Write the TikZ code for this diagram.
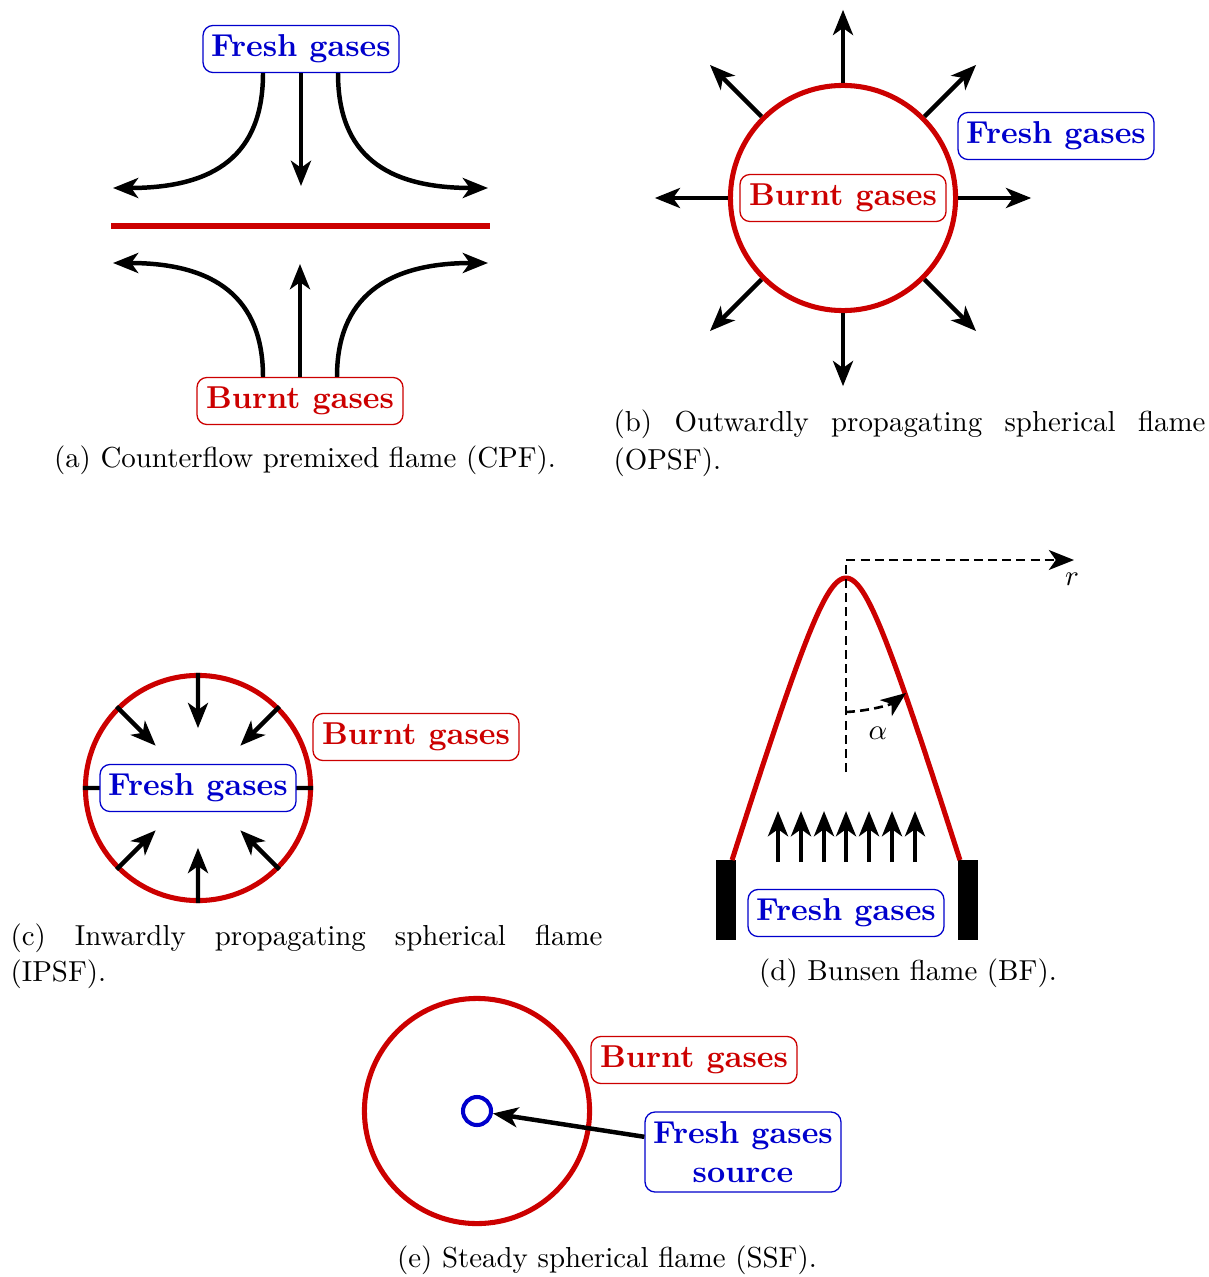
\documentclass[tikz,border=0pt]{standalone}
\usetikzlibrary{arrows.meta,calc}
\definecolor{fred}{RGB}{204,0,0}
\definecolor{fblue}{RGB}{0,0,204}
\begin{document}
\begin{tikzpicture}[x=0.346pt,y=-0.346pt,
  lbl/.style={draw, rounded corners=3.5pt, fill=white, line width=0.45pt,
    font=\fontsize{10.95}{13.6}\selectfont\bfseries, inner sep=0pt, minimum height=16.3pt},
  fresh/.style={lbl, draw=fblue, text=fblue, minimum width=67.8pt},
  burnt/.style={lbl, draw=fred, text=fred, minimum width=71.3pt},
  stealthtip/.style={-{Stealth[length=8.7pt,width=6.9pt,inset=2.4pt]}},
  flow/.style={stealthtip, line width=1.55pt},
  flameline/.style={draw=fred, line width=1.75pt},
  flamering/.style={circle, draw=fred, line width=1.75pt, minimum size=77.9pt, inner sep=0pt},
  dashln/.style={line width=0.9pt, dash pattern=on 3.1pt off 1.8pt},
  captxt/.style={font=\fontsize{10}{12}\selectfont, inner sep=0pt},
]
\useasboundingbox (0,0) rectangle (1208,1277);

% ---------- (a) Counterflow premixed flame ----------
\node[fresh] (fa) at (301,49) {Fresh gases};
\node[burnt] (ba) at (300,401) {Burnt gases};
\coordinate (aTL) at (113,188);
\coordinate (aTR) at (488,188);
\coordinate (aTM) at (301,186);
\coordinate (aBL) at (113,263);
\coordinate (aBR) at (488,263);
\coordinate (aBM) at (300,264);
\coordinate (fl1) at (111,226);
\coordinate (fl2) at (490,226);
\draw[flameline] (fl1) -- (fl2);
\draw[flow] ($(fa.south)+(-38,0)$) .. controls (263,155) and (215,188) .. (aTL);
\draw[flow] ($(fa.south)+(37,0)$) .. controls (338,155) and (386,188) .. (aTR);
\draw[flow] (fa.south) -- (aTM);
\draw[flow] ($(ba.north)+(-37,0)$) .. controls (263,298) and (215,263) .. (aBL);
\draw[flow] ($(ba.north)+(37,0)$) .. controls (337,298) and (386,263) .. (aBR);
\draw[flow] (ba.north) -- (aBM);
\node[captxt] (capa) at (305,460) {(a) Counterflow premixed flame (CPF).};

% ---------- (b) Outwardly propagating spherical flame ----------
\node[flamering] (ob) at (843,198) {};
\foreach \a in {0,45,...,315}
  \draw[flow] (ob.\a) -- ($(ob.center)!1.635!(ob.\a)$);
\node[burnt] (bb) at (843,198) {Burnt gases};
\node[fresh] (fb) at (1056,136) {Fresh gases};
\node[captxt, anchor=west] (capb1) at (613,424) {\makebox[204.8pt][s]{(b) Outwardly propagating spherical flame}};
\node[captxt, anchor=west] (capb2) at (613,462) {(OPSF).};

% ---------- (c) Inwardly propagating spherical flame ----------
\node[flamering] (ic) at (198,788) {};
\foreach \a in {0,45,...,315}
  \draw[flow] (ic.\a) -- ($(ic.center)!0.52!(ic.\a)$);
\node[fresh] (fc) at (198,788) {Fresh gases};
\node[burnt] (bc) at (416,737) {Burnt gases};
\node[captxt, anchor=west] (capc1) at (10,938) {\makebox[204.8pt][s]{(c) Inwardly propagating spherical flame}};
\node[captxt, anchor=west] (capc2) at (10,974) {(IPSF).};

% ---------- (d) Bunsen flame ----------
\fill (716,860) rectangle (736,940);
\fill (958,860) rectangle (978,940);
\draw[flameline] plot[domain=-2.016:2.016, samples=90, smooth]
  ({846+30.9*sinh(\x)}, {578+100*(cosh(\x)-1)});
\coordinate (axb) at (846,772);
\coordinate (axt) at (846,560);
\coordinate (axr) at (1074,560);
\draw[dashln, stealthtip] (axb) -- (axt) -- (axr);
\node (rl) at (1072,579) {$r$};
\coordinate (al0) at (846,712);
\coordinate (al1) at (906,693);
\draw[dashln, stealthtip] (al0) .. controls (868,711) and (890,705) .. (al1);
\node (alab) at (878,733) {$\alpha$};
\foreach \x in {778,801,824,846,869,892,915}
  \draw[flow] (\x,862) -- (\x,811);
\node[fresh] (fd) at (846,913) {Fresh gases};
\node[captxt] (capd) at (908,973) {(d) Bunsen flame (BF).};

% ---------- (e) Steady spherical flame ----------
\node[flamering] (se) at (477,1111) {};
\node[circle, draw=fblue, line width=1.4pt, minimum size=9.7pt, inner sep=0pt] (src) at (477,1111) {};
\node[burnt] (be) at (694,1060) {Burnt gases};
\node[fresh, align=center, minimum height=27.7pt] (fe) at (743,1152) {Fresh gases\\source};
\draw[flow] (fe) -- (src);
\node[captxt] (cape) at (607,1260) {(e) Steady spherical flame (SSF).};
\end{tikzpicture}
\end{document}
